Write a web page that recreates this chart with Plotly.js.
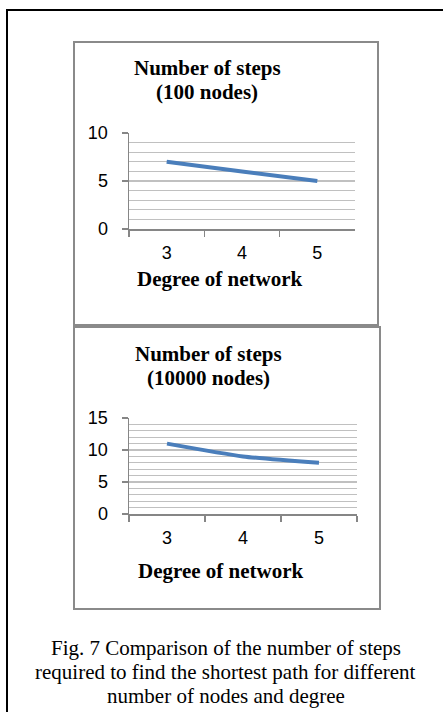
<!DOCTYPE html>
<html>
<head>
<meta charset="utf-8">
<script src="https://cdn.plot.ly/plotly-3.0.1.min.js"></script>
<style>
html,body{margin:0;padding:0;background:#fff;}
#chart{width:443px;height:712px;}
</style>
</head>
<body>
<div id="chart"></div>
<script>
// ---- data ----
const degrees = ["3", "4", "5"];
const steps100 = [7, 6, 5];
const steps10000 = [11, 9, 8];
const title1 = ["Number of steps", "(100 nodes)"];
const title2 = ["Number of steps", "(10000 nodes)"];
const xTitle = "Degree of network";
const caption = [
  "Fig. 7 Comparison of the number of steps",
  "required to find the shortest path for different",
  "number of nodes and degree"
];
const yTicks1 = [0, 5, 10];
const yTicks2 = [0, 5, 10, 15];

// ---- geometry (pixels) ----
const W = 443, H = 712;
const px = v => v / W;
const py = v => 1 - v / H;

const lineColor = "#4A7EBB";
const gridColor = "#C0C0C0";
const axisColor = "#868686";
const serif = "Liberation Serif, Times New Roman, serif";
const sans = "Liberation Sans, Arial, sans-serif";

function xAxis(domain, anchor) {
  return {
    domain: domain, anchor: anchor, type: "category",
    range: [-0.5, 2.5], tickson: "boundaries",
    ticks: "outside", ticklen: 6, tickcolor: axisColor, tickwidth: 1.5,
    showline: true, linecolor: axisColor, linewidth: 1.5,
    showgrid: false, zeroline: false,
    tickfont: {family: sans, size: 18, color: "#000"},
    ticklabelstandoff: 7, fixedrange: true
  };
}
function yAxis(domain, anchor, maxV, ticks) {
  return {
    domain: domain, anchor: anchor, range: [0, maxV],
    tickmode: "array", tickvals: ticks, ticktext: ticks.map(String),
    ticks: "outside", ticklen: 6, tickcolor: axisColor, tickwidth: 1.5,
    showline: true, linecolor: axisColor, linewidth: 1.5,
    showgrid: true, gridcolor: gridColor, gridwidth: 1.2,
    minor: {dtick: 1, showgrid: true, gridcolor: gridColor, gridwidth: 1.2, ticks: ""},
    zeroline: false,
    tickfont: {family: sans, size: 18, color: "#000"},
    ticklabelstandoff: 10, fixedrange: true
  };
}

const traces = [
  {x: degrees, y: steps100, type: "scatter", mode: "lines",
   line: {color: lineColor, width: 4, shape: "spline", smoothing: 0.6},
   xaxis: "x", yaxis: "y", hoverinfo: "skip"},
  {x: degrees, y: steps10000, type: "scatter", mode: "lines",
   line: {color: lineColor, width: 4, shape: "spline", smoothing: 0.6},
   xaxis: "x2", yaxis: "y2", hoverinfo: "skip"}
];

function txt(text, x, y, size, bold) {
  return {
    xref: "paper", yref: "paper", x: px(x), y: py(y),
    xanchor: "center", yanchor: "middle", showarrow: false,
    text: bold ? "<b>" + text + "</b>" : text,
    font: {family: serif, size: size, color: "#000"}
  };
}

const annotations = [
  txt(title1[0], 207, 68, 21, true),
  txt(title1[1], 207, 92, 21, true),
  txt(xTitle, 220, 279, 21, true),
  txt(title2[0], 208, 354, 21, true),
  txt(title2[1], 208, 378, 21, true),
  txt(xTitle, 221, 571, 21, true),
  txt(caption[0], 226, 648, 21, false),
  txt(caption[1], 226, 672, 21, false),
  txt(caption[2], 226, 696, 21, false)
];

function rect(x0, y0, x1, y1, color, w) {
  return {type: "rect", xref: "paper", yref: "paper",
    x0: px(x0), x1: px(x1), y0: py(y0), y1: py(y1),
    line: {color: color, width: w}, fillcolor: "rgba(0,0,0,0)", layer: "below"};
}

const shapes = [
  // outer frame (extends beyond the page on right and bottom)
  rect(7, 10, 460, 730, "#000", 2),
  // chart boxes
  rect(74, 42, 378, 325, "#8A8A8A", 2),
  rect(74, 327, 380, 609, "#8A8A8A", 2)
];

const layout = {
  width: W, height: H,
  margin: {l: 0, r: 0, t: 0, b: 0},
  paper_bgcolor: "#fff", plot_bgcolor: "rgba(0,0,0,0)",
  showlegend: false,
  xaxis: xAxis([px(129), px(355)], "y"),
  yaxis: yAxis([py(229), py(133)], "x", 10, yTicks1),
  xaxis2: xAxis([px(129), px(357)], "y2"),
  yaxis2: yAxis([py(514), py(418)], "x2", 15, yTicks2),
  annotations: annotations,
  shapes: shapes
};

Plotly.newPlot("chart", traces, layout, {displayModeBar: false, staticPlot: true});
</script>
</body>
</html>
